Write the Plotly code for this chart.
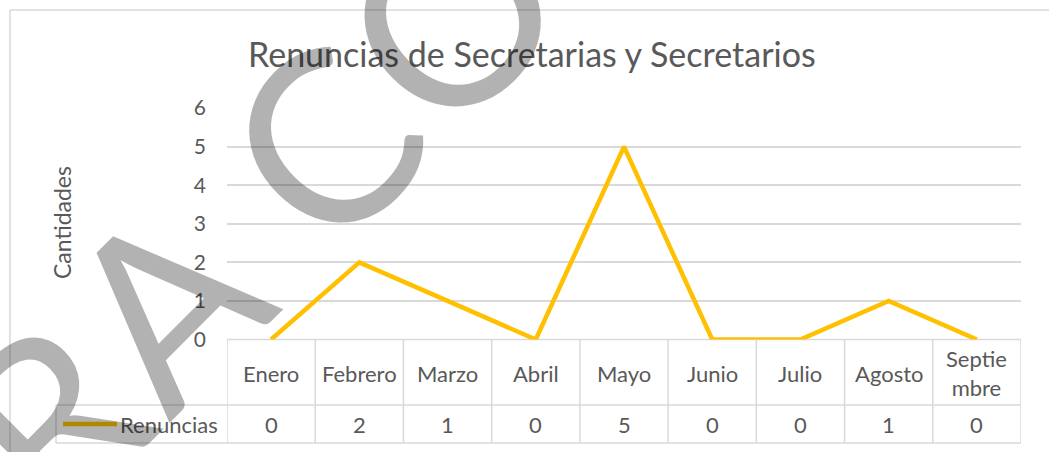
import plotly.graph_objects as go

# ---- data ----
categories = ["Enero", "Febrero", "Marzo", "Abril", "Mayo", "Junio", "Julio", "Agosto", "Septiembre"]
category_labels = ["Enero", "Febrero", "Marzo", "Abril", "Mayo", "Junio", "Julio", "Agosto", "Septie<br>mbre"]
renuncias = [0, 2, 1, 0, 5, 0, 0, 1, 0]
series_name = "Renuncias"
y_ticks = [0, 1, 2, 3, 4, 5, 6]
title_text = "Renuncias de Secretarias y Secretarios"
y_title = "Cantidades"
watermark_text = "PARA CONSULTA"

W, H = 1049, 452
FONT = "Lato, Carlito, 'Open Sans', sans-serif"
TXT = "#595959"
GRID = "#D9D9D9"
LINE = "#FFC000"

def px(x):
    return x / W

def py(y):
    return (H - y) / H

x_left, x_right = 227, 1021
y_top, y_zero = 108, 339.5
row1_bot, row2_bot = 405, 443
legend_left = 56

n = len(categories)
xs = list(range(n))

fig = go.Figure()
fig.add_trace(go.Scatter(
    x=xs, y=renuncias, mode="lines", name=series_name,
    line=dict(color=LINE, width=4.5), cliponaxis=False, showlegend=False,
    hoverinfo="skip",
))

shapes = []
# outer chart border
shapes.append(dict(type="line", xref="paper", yref="paper", x0=px(10), x1=px(1049), y0=py(10), y1=py(10),
                   line=dict(color=GRID, width=1.5)))
shapes.append(dict(type="line", xref="paper", yref="paper", x0=px(10), x1=px(10), y0=py(10), y1=py(452),
                   line=dict(color=GRID, width=1.5)))
# data table horizontal lines
shapes.append(dict(type="line", xref="x", yref="paper", x0=-0.5, x1=n - 0.5, y0=py(y_zero), y1=py(y_zero),
                   line=dict(color=GRID, width=1.5), layer="below"))
shapes.append(dict(type="line", xref="paper", yref="paper", x0=px(legend_left), x1=px(x_right), y0=py(row1_bot), y1=py(row1_bot),
                   line=dict(color=GRID, width=1.5)))
shapes.append(dict(type="line", xref="paper", yref="paper", x0=px(legend_left), x1=px(x_right), y0=py(row2_bot), y1=py(row2_bot),
                   line=dict(color=GRID, width=1.5)))
# vertical lines
shapes.append(dict(type="line", xref="paper", yref="paper", x0=px(legend_left), x1=px(legend_left), y0=py(row1_bot), y1=py(row2_bot),
                   line=dict(color=GRID, width=1.5)))
for k in range(n + 1):
    shapes.append(dict(type="line", xref="x", yref="paper", x0=k - 0.5, x1=k - 0.5, y0=py(y_zero), y1=py(row2_bot),
                       line=dict(color=GRID, width=1.5)))
# legend key
shapes.append(dict(type="line", xref="paper", yref="paper", x0=px(63), x1=px(117), y0=py(424), y1=py(424),
                   line=dict(color=LINE, width=4.5)))

annotations = []
annotations.append(dict(text=title_text, xref="paper", yref="paper", x=px(532), y=py(53),
                        showarrow=False, font=dict(family=FONT, size=34, color=TXT), xanchor="center", yanchor="middle"))
annotations.append(dict(text=y_title, xref="paper", yref="paper", x=px(62), y=py(223), textangle=-90,
                        showarrow=False, font=dict(family=FONT, size=23, color=TXT), xanchor="center", yanchor="middle"))
for i, lab in enumerate(category_labels):
    annotations.append(dict(text=lab, xref="x", yref="paper", x=xs[i], y=py(373), showarrow=False,
                            font=dict(family=FONT, size=22, color=TXT), xanchor="center", yanchor="middle"))
    annotations.append(dict(text=str(renuncias[i]), xref="x", yref="paper", x=xs[i], y=py(424), showarrow=False,
                            font=dict(family=FONT, size=22, color=TXT), xanchor="center", yanchor="middle"))
annotations.append(dict(text=series_name, xref="paper", yref="paper", x=px(220), y=py(424), showarrow=False,
                        font=dict(family=FONT, size=22, color=TXT), xanchor="right", yanchor="middle"))
# watermark
annotations.append(dict(text=watermark_text, xref="paper", yref="paper", x=px(471), y=py(-10), textangle=-45,
                        showarrow=False, font=dict(family=FONT, size=240, color="rgba(0,0,0,0.3)"),
                        xanchor="center", yanchor="middle"))

fig.update_layout(
    width=W, height=H,
    margin=dict(l=0, r=0, t=0, b=0, autoexpand=False),
    paper_bgcolor="white", plot_bgcolor="white",
    showlegend=False,
    xaxis=dict(domain=[px(x_left), px(x_right)], range=[-0.5, n - 0.5], showticklabels=False,
               showgrid=False, zeroline=False, showline=False, fixedrange=True),
    yaxis=dict(domain=[py(y_zero), py(y_top)], range=[0, 6], tickvals=y_ticks,
               showgrid=True, gridcolor=GRID, gridwidth=1.5, zeroline=False, showline=False,
               tickfont=dict(family=FONT, size=21, color=TXT), ticklabelstandoff=20, fixedrange=True),
    shapes=shapes, annotations=annotations,
)

post = (
    "document.body.style.margin='0';document.body.style.padding='0';document.body.style.overflow='hidden';"
    "document.querySelectorAll('text.annotation-text').forEach(function(t){"
    "if(t.textContent==='" + watermark_text + "'){t.style.letterSpacing='6px';}});"
)

fig.write_html(
    "out.html",
    config={"responsive": False, "displayModeBar": False},
    post_script=post,
)
